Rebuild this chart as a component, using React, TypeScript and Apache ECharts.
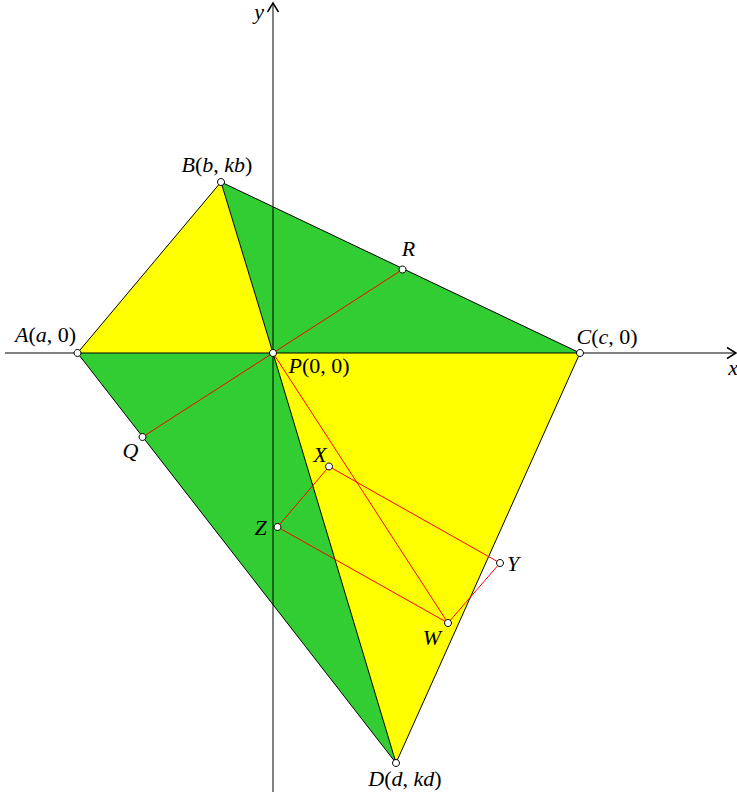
import React, { useEffect, useRef } from "react";
import * as echarts from "echarts";

// ---- data (units: 1 = 50px in the reference) ----
const pointNames = ["P", "A", "B", "C", "D", "R", "Q", "X", "Y", "Z", "W"];
const pointX = [0, -3.91, -1.04, 6.14, 2.46, 2.59, -2.61, 1.12, 4.54, 0.09, 3.5];
const pointY = [0, 0, 3.42, 0, -8.2, 1.67, -1.68, -2.27, -4.2, -3.48, -5.4];
const pointLabels = ["P(0, 0)", "A(a, 0)", "B(b, kb)", "C(c, 0)", "D(d, kd)", "R", "Q", "X", "Y", "Z", "W"];

const triangles = [
  ["P", "A", "B"],
  ["P", "B", "C"],
  ["P", "C", "D"],
  ["P", "D", "A"],
];
const blackSegments = [
  ["A", "B"],
  ["B", "C"],
  ["C", "D"],
  ["D", "A"],
  ["P", "B"],
  ["P", "D"],
];
const redSegments = [
  ["Q", "R"],
  ["P", "W"],
  ["X", "Y"],
  ["Y", "W"],
  ["W", "Z"],
  ["Z", "X"],
];
const axisStartX = [-5.36, 0];
const axisEndX = [9.28, 0];
const axisStartY = [0, -8.78];
const axisEndY = [0, 7.02];
const axisNames = ["x", "y"];

// ---- styles / layout ----
const triangleColors = ["#ffff00", "#32cd32", "#ffff00", "#32cd32"];
const labelOffsets: Record<string, [number, number]> = {
  P: [46, 12],
  A: [-32, -19],
  B: [-4, -18],
  C: [27, -17],
  D: [9, 15],
  R: [6, -21],
  Q: [-12, 13],
  X: [-9, -12],
  Y: [13, 0],
  Z: [-17, 0],
  W: [-16, 14],
};
const axisLabelOffsets: [number, number][] = [
  [-4, 14],
  [-14, 9],
];
const FONT = "'Liberation Serif', 'Times New Roman', serif";
const FS = 22;

const idx = (n: string) => pointNames.indexOf(n);
const pt = (n: string) => [pointX[idx(n)], pointY[idx(n)]];

function toRich(s: string): string {
  const parts = s.match(/[A-Za-z]+|[^A-Za-z]+/g) || [];
  return parts.map((p) => (/^[A-Za-z]/.test(p) ? `{i|${p}}` : `{n|${p}}`)).join("");
}
const richStyles = {
  i: { fontStyle: "italic", fontSize: FS, fontFamily: FONT, fill: "#000" },
  n: { fontStyle: "normal", fontSize: FS, fontFamily: FONT, fill: "#000" },
};

export default function App() {
  const ref = useRef<HTMLDivElement>(null);
  useEffect(() => {
    if (!ref.current) return;
    const chart = echarts.init(ref.current, undefined, { renderer: "svg" });

    const triData = triangles.map((t) => t.flatMap((n) => pt(n)));
    const blackData = blackSegments.map((s) => s.flatMap((n) => pt(n)));
    const redData = redSegments.map((s) => s.flatMap((n) => pt(n)));
    const axisData = [
      [...axisStartX, ...axisEndX],
      [...axisStartY, ...axisEndY],
    ];

    const segSeries = (data: number[][], color: string, z: number) => ({
      type: "custom",
      coordinateSystem: "cartesian2d",
      clip: false,
      z,
      silent: true,
      data,
      renderItem: (_p: any, api: any) => {
        const a = api.coord([api.value(0), api.value(1)]);
        const b = api.coord([api.value(2), api.value(3)]);
        return {
          type: "line",
          shape: { x1: a[0], y1: a[1], x2: b[0], y2: b[1] },
          style: { stroke: color, lineWidth: 1 },
        };
      },
    });

    const option: any = {
      animation: false,
      backgroundColor: "#ffffff",
      grid: { left: 0, right: 0, top: 0, bottom: 0 },
      xAxis: { type: "value", min: -5.46, max: 9.28, show: false },
      yAxis: { type: "value", min: -8.86, max: 7.06, show: false },
      series: [
        {
          type: "custom",
          coordinateSystem: "cartesian2d",
          clip: false,
          z: 1,
          silent: true,
          data: triData,
          renderItem: (p: any, api: any) => {
            const pts = [0, 1, 2].map((k) => api.coord([api.value(2 * k), api.value(2 * k + 1)]));
            return {
              type: "polygon",
              shape: { points: pts },
              style: { fill: triangleColors[p.dataIndex], stroke: "none" },
            };
          },
        },
        {
          type: "custom",
          coordinateSystem: "cartesian2d",
          clip: false,
          z: 2,
          silent: true,
          data: axisData,
          renderItem: (p: any, api: any) => {
            const a = api.coord([api.value(0), api.value(1)]);
            const b = api.coord([api.value(2), api.value(3)]);
            const dx = b[0] - a[0];
            const dy = b[1] - a[1];
            const L = Math.hypot(dx, dy);
            const ux = dx / L;
            const uy = dy / L;
            const nx = -uy;
            const ny = ux;
            const back = 10;
            const half = 5.5;
            const off = axisLabelOffsets[p.dataIndex];
            return {
              type: "group",
              children: [
                {
                  type: "line",
                  shape: { x1: a[0], y1: a[1], x2: b[0] - ux * 1, y2: b[1] - uy * 1 },
                  style: { stroke: "#000", lineWidth: 1 },
                },
                {
                  type: "polyline",
                  shape: {
                    points: [
                      [b[0] - ux * back + nx * half, b[1] - uy * back + ny * half],
                      [b[0] - ux * 1, b[1] - uy * 1],
                      [b[0] - ux * back - nx * half, b[1] - uy * back - ny * half],
                    ],
                  },
                  style: { stroke: "#000", lineWidth: 1.5, fill: "none" },
                },
                {
                  type: "text",
                  x: b[0] + off[0],
                  y: b[1] + off[1],
                  style: {
                    text: `{i|${axisNames[p.dataIndex]}}`,
                    rich: richStyles,
                    fontSize: FS,
                    fontFamily: FONT,
                    align: "center",
                    verticalAlign: "middle",
                    textAlign: "center",
                    textVerticalAlign: "middle",
                  },
                },
              ],
            };
          },
        },
        segSeries(blackData, "#000000", 3),
        segSeries(redData, "#ff0000", 4),
        {
          type: "scatter",
          z: 5,
          silent: true,
          symbol: "circle",
          symbolSize: 7,
          itemStyle: { color: "#ffffff", borderColor: "#000000", borderWidth: 1, opacity: 1 },
          data: pointX.map((x, i) => [x, pointY[i]]),
        },
        {
          type: "custom",
          coordinateSystem: "cartesian2d",
          clip: false,
          z: 6,
          silent: true,
          data: pointX.map((x, i) => [x, pointY[i]]),
          renderItem: (p: any, api: any) => {
            const c = api.coord([api.value(0), api.value(1)]);
            const name = pointNames[p.dataIndex];
            const off = labelOffsets[name];
            return {
              type: "text",
              x: c[0] + off[0],
              y: c[1] + off[1],
              style: {
                text: toRich(pointLabels[p.dataIndex]),
                rich: richStyles,
                fontSize: FS,
                fontFamily: FONT,
                align: "center",
                verticalAlign: "middle",
                textAlign: "center",
                textVerticalAlign: "middle",
              },
            };
          },
        },
      ],
    };
    chart.setOption(option);
    return () => chart.dispose();
  }, []);

  return (
    <div
      ref={ref}
      style={{ position: "fixed", left: 0, top: 0, width: 737, height: 796, background: "#fff" }}
    />
  );
}
